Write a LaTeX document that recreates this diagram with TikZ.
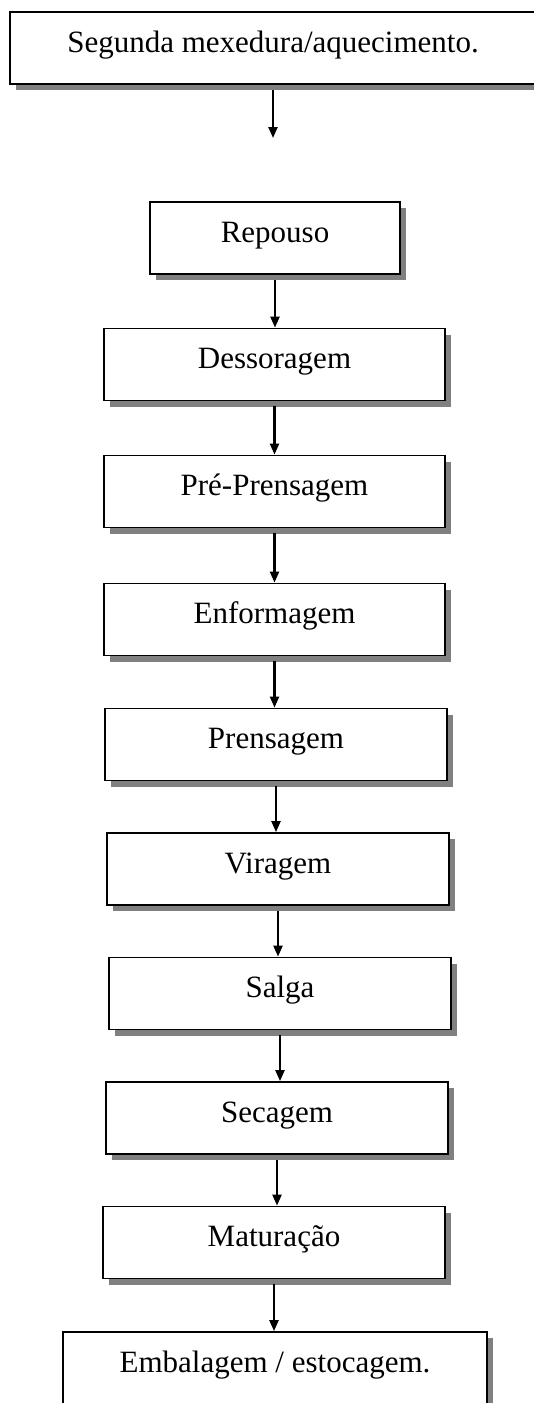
\documentclass[tikz,border=0pt]{standalone}
\usepackage{fontspec}
\setmainfont{Liberation Serif}
\usetikzlibrary{positioning, shadows, arrows.meta}
\tikzset{
stage/.style={draw, line width=1.8pt, fill=white, inner sep=0pt,
  minimum height=72pt, text height=40pt, text depth=32pt,
  font=\fontsize{31}{36}\selectfont,
  drop shadow={shadow xshift=6pt, shadow yshift=-6pt, fill=black!50, opacity=1}}, % boxes with a grey shadow
flow/.style={-{Triangle[width=9pt,length=11pt]}, line width=2.2pt}, % the arrows between the steps
}
\begin{document}
\begin{tikzpicture}[x=1pt, y=-1pt]
\path[use as bounding box, clip] (0,0) rectangle (534,1403);
\node[stage, minimum width=526pt] (seg) at (273,48) {Segunda mexedura/aquecimento.};
\coordinate (gap) at (273,138);
\node[stage, minimum width=250pt] (rep) at (275,238) {Repouso};
\node[stage, minimum width=341pt] (des) at (274.5,364.5) {Dessoragem};
\node[stage, minimum width=341pt] (pre) at (274.5,491.5) {Pré-Prensagem};
\node[stage, minimum width=341pt] (enf) at (274.5,619.5) {Enformagem};
\node[stage, minimum width=342pt] (pren) at (276,744.5) {Prensagem};
\node[stage, minimum width=342pt] (vir) at (278,869) {Viragem};
\node[stage, minimum width=342pt] (sal) at (280,993.5) {Salga};
\node[stage, minimum width=342pt] (sec) at (277,1118) {Secagem};
\node[stage, minimum width=342pt] (mat) at (274,1242.5) {Maturação};
\node[stage, minimum width=424pt] (emb) at (275,1368) {Embalagem / estocagem.};
\draw[flow] ([yshift=-5pt]seg.south) -- (gap);
\draw[flow] ([yshift=-5pt]rep.south) -- (rep.south |- des.north);
\draw[flow] ([yshift=-5pt]des.south) -- (des.south |- pre.north);
\draw[flow] ([yshift=-5pt]pre.south) -- (pre.south |- enf.north);
\draw[flow] ([yshift=-5pt]enf.south) -- (enf.south |- pren.north);
\draw[flow] ([yshift=-5pt]pren.south) -- (pren.south |- vir.north);
\draw[flow] ([yshift=-5pt]vir.south) -- (vir.south |- sal.north);
\draw[flow] ([yshift=-5pt]sal.south) -- (sal.south |- sec.north);
\draw[flow] ([yshift=-5pt]sec.south) -- (sec.south |- mat.north);
\draw[flow] ([yshift=-5pt]mat.south) -- (mat.south |- emb.north);
\end{tikzpicture}
\end{document}
